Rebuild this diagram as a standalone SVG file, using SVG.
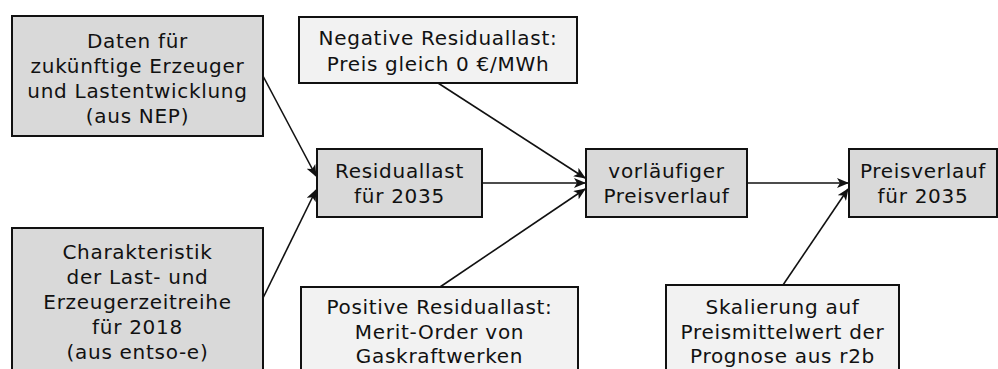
<svg xmlns="http://www.w3.org/2000/svg" width="998" height="369" viewBox="0 0 998 369">
<defs>
<style>
.g{fill:#d9d9d9;stroke:#111;stroke-width:2}
.l{fill:#f2f2f2;stroke:#111;stroke-width:2}
text{font-family:"DejaVu Sans",Verdana,sans-serif;font-size:20px;fill:#111;text-anchor:middle;letter-spacing:0.7px}
.c{stroke:#111;stroke-width:1.6;fill:none;marker-end:url(#a)}
</style>
<marker id="a" markerWidth="12" markerHeight="10" refX="11" refY="5" orient="auto" markerUnits="userSpaceOnUse">
<path d="M0,0 L12,5 L0,10 L3,5 Z" fill="#111"/>
</marker>
</defs>
<rect width="998" height="369" fill="#fff"/>
<g id="connectors">
<line class="c" x1="263" y1="76" x2="316" y2="176"/>
<line class="c" x1="263" y1="298" x2="316" y2="190"/>
<line class="c" x1="482" y1="183" x2="585" y2="183"/>
<line class="c" x1="438" y1="83" x2="585" y2="178"/>
<line class="c" x1="440" y1="287" x2="585" y2="189"/>
<line class="c" x1="747" y1="183" x2="848" y2="183"/>
<line class="c" x1="783" y1="285" x2="848" y2="189"/>
</g>
<g id="daten">
<rect class="g" x="12" y="16" width="251" height="120"/>
<text x="137.5" y="48">Daten für</text>
<text x="137.5" y="73">zukünftige Erzeuger</text>
<text x="137.5" y="98">und Lastentwicklung</text>
<text x="137.5" y="123">(aus NEP)</text>
</g>
<g id="charakteristik">
<rect class="g" x="12" y="228" width="251" height="150"/>
<text x="137.5" y="259">Charakteristik</text>
<text x="137.5" y="284">der Last- und</text>
<text x="137.5" y="309">Erzeugerzeitreihe</text>
<text x="137.5" y="334">für 2018</text>
<text x="137.5" y="359">(aus entso-e)</text>
</g>
<g id="negativ">
<rect class="l" x="299" y="17" width="278" height="66"/>
<text x="438" y="45">Negative Residuallast:</text>
<text x="438" y="71">Preis gleich 0 €/MWh</text>
</g>
<g id="residuallast">
<rect class="g" x="317" y="149" width="165" height="68"/>
<text x="399.5" y="178">Residuallast</text>
<text x="399.5" y="203">für 2035</text>
</g>
<g id="positiv">
<rect class="l" x="301" y="287" width="277" height="100"/>
<text x="439.5" y="314">Positive Residuallast:</text>
<text x="439.5" y="339">Merit-Order von</text>
<text x="439.5" y="363">Gaskraftwerken</text>
</g>
<g id="vorlaeufig">
<rect class="g" x="586" y="149" width="161" height="68"/>
<text x="666.5" y="178">vorläufiger</text>
<text x="666.5" y="203">Preisverlauf</text>
</g>
<g id="preisverlauf">
<rect class="g" x="849" y="149" width="148" height="68"/>
<text x="923" y="178">Preisverlauf</text>
<text x="923" y="203">für 2035</text>
</g>
<g id="skalierung">
<rect class="l" x="666" y="285" width="233" height="100"/>
<text x="782.5" y="314">Skalierung auf</text>
<text x="782.5" y="339">Preismittelwert der</text>
<text x="782.5" y="363">Prognose aus r2b</text>
</g>
</svg>
